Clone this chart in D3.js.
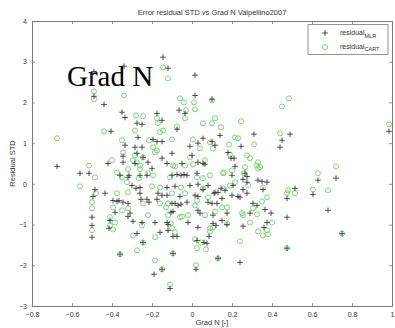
<!DOCTYPE html>
<html>
<head>
<meta charset="utf-8">
<script src="https://cdn.jsdelivr.net/npm/d3@7"></script>
<style>
  html, body { margin: 0; padding: 0; background: #fff; }
  svg { display: block; }
</style>
</head>
<body>
<svg id="chart" width="395" height="328"></svg>
<script>
// Residuals of the MLR model (x = Grad N, y = residual STD)
const mlrX = [-0.145,-0.12,-0.34,-0.49,0.015,-0.49,-0.44,0.015,-0.35,-0.335,-0.175,-0.065,-0.035,0.10,-0.15,-0.275,-0.25,-0.075,0.14,0.31,0.45,0.44,0.49,0.055,-0.01,0.03,0.10,0.115,0.245,-0.10,0,0.18,0.195,0.21,-0.405,-0.27,-0.195,-0.175,-0.15,-0.335,-0.285,-0.25,-0.275,-0.245,-0.22,-0.345,-0.345,-0.42,-0.15,-0.125,-0.05,-0.20,-0.225,-0.025,-0.36,-0.32,-0.30,-0.28,-0.675,-0.56,-0.515,-0.485,-0.495,-0.395,-0.375,-0.255,-0.225,-0.215,0.055,0.03,0.065,0.215,0.20,0.275,-0.10,-0.075,-0.055,-0.04,0.025,0.33,0.35,0.375,0.265,0.255,0.275,0.205,0.145,0.165,0.055,0.115,0.15,0.24,0.355,0.515,0.475,0.605,0.63,0.72,0.68,0.985,-0.125,-0.085,-0.01,0.03,0.08,0.255,-0.125,-0.06,0.015,0.03,0.11,0.13,0.20,0.23,0.275,-0.10,-0.085,-0.07,-0.055,-0.025,0.08,0.10,0.125,0.305,0.325,0.365,0.395,-0.105,-0.095,0.03,0.04,0.105,0.175,-0.125,-0.12,-0.02,0.03,0.105,0.15,0.255,0.36,0.375,-0.12,-0.095,-0.075,0.06,0.075,0.085,-0.095,0.13,0.24,0.02,-0.11,0.29,0.12,0.175,0.475,0.75,0.475,-0.285,-0.315,-0.26,-0.435,-0.26,-0.26,-0.17,-0.15,-0.365,-0.345,-0.32,-0.31,-0.175,-0.50,-0.50,-0.50,-0.41,-0.415,-0.295,-0.25,-0.185,-0.275,-0.16,-0.245,-0.36,-0.15,-0.19,-0.385,-0.32,0.025];
const mlrY = [3.11,2.84,2.89,2.76,2.67,2.15,1.95,2.17,1.76,1.63,1.73,1.81,1.73,2.08,1.56,1.49,1.46,1.34,1.19,1.22,1.07,0.90,1.22,1.12,0.92,1.00,1.04,0.95,0.92,0.75,0.70,0.77,0.63,0.63,1.29,1.14,1.09,1.04,1.04,0.95,0.90,0.90,0.75,0.65,0.53,0.68,0.53,0.50,0.63,0.50,0.50,0.38,0.21,0.21,0.21,0.16,-0.04,-0.11,0.43,0.26,0.26,-0.14,-0.31,-0.41,-0.43,-0.38,-0.38,-0.45,0.50,0.53,0.48,0.43,0.21,0.18,0.21,0.23,0.21,0.23,0.26,0.09,0.06,0.04,0.26,0.11,0.04,-0.04,-0.11,-0.16,-0.14,-0.21,-0.36,-0.33,-0.14,-0.11,-0.36,-0.26,0.09,0.14,-0.65,1.29,-0.09,-0.06,-0.04,-0.01,-0.04,-0.14,-0.28,-0.31,-0.28,-0.31,-0.23,-0.21,-0.28,-0.31,-0.23,-0.48,-0.48,-0.53,-0.50,-0.45,-0.45,-0.48,-0.48,-0.48,-0.53,-0.63,-0.72,-0.70,-0.68,-0.65,-0.72,-0.77,-0.72,-0.95,-1.00,-0.95,-1.07,-0.97,-0.90,-1.04,-1.07,-0.95,-1.14,-1.29,-1.29,-1.44,-1.46,-1.29,-1.71,-1.83,-1.93,-2.10,-2.57,-0.72,-1.02,-1.00,-0.82,-1.22,-1.58,0.50,0.21,0.21,-0.23,-0.09,-0.23,-0.23,-0.28,-0.41,-0.45,-0.48,-0.72,-0.38,-0.82,-1.02,-1.31,-0.90,-1.09,-0.92,-0.95,-0.95,-1.22,-1.19,-1.44,-1.73,-2.10,-2.22,-0.70,-0.80,-1.39];

// Residuals of the CART model
const cartX = [-0.145,-0.12,-0.49,-0.49,-0.34,-0.06,-0.04,0.01,0.10,0.45,0.485,0.115,0.245,-0.28,-0.245,-0.175,-0.03,-0.035,0.015,0.055,0.10,0.145,-0.075,0.44,-0.10,0.005,0.09,0.04,0.105,0.215,0.23,0.185,0.31,-0.01,0.19,0.275,0.29,0.33,0.065,0.33,-0.44,-0.16,-0.35,-0.175,-0.285,-0.40,-0.345,-0.285,-0.295,-0.275,-0.26,-0.26,-0.245,-0.215,-0.195,-0.185,-0.145,-0.17,-0.195,-0.095,-0.375,-0.325,-0.675,-0.515,-0.56,-0.48,-0.085,-0.035,0.005,0.265,0.325,0.34,0.26,-0.11,0.025,0.09,0.155,0.355,-0.055,0.055,0.19,0.28,-0.10,-0.035,0.025,0.375,0.35,-0.12,0.015,0.08,0.15,0.175,0.305,0.25,-0.12,-0.06,-0.02,0.065,0.115,0.175,-0.105,0.09,0.29,0.375,0.355,0.40,-0.085,0.015,0.045,0.025,0.07,0.24,-0.095,0.13,0.02,-0.11,0.16,0.20,0.215,0.055,0.16,0.48,0.515,0.605,0.68,0.63,0.72,0.985,0.475,0.75,0.475,0.33,0.38,0.325,0.255,0.105,0.09,-0.32,-0.485,-0.35,-0.265,-0.22,-0.375,-0.32,-0.20,-0.16,-0.50,-0.395,-0.35,-0.32,-0.245,-0.16,-0.13,-0.50,-0.50,-0.41,-0.395,-0.385,-0.25,-0.295,-0.185,-0.245,-0.275,-0.36,-0.185,-0.15,-0.41,-0.22,-0.10,-0.05];
const cartY = [2.86,2.59,2.27,2.08,2.17,2.10,2.00,2.00,2.05,1.90,2.10,1.61,1.54,1.68,1.66,1.61,1.81,1.61,1.83,1.49,1.49,1.39,1.41,1.24,1.09,1.09,1.02,0.87,0.87,1.14,1.12,0.97,0.97,0.65,0.72,0.70,0.63,0.53,0.58,0.38,1.29,1.27,1.07,0.82,0.70,0.58,0.77,1.31,0.58,0.53,0.45,0.36,0.65,1.07,0.90,0.77,1.31,1.49,0.21,0.45,0.28,0.04,1.12,0.45,-0.06,-0.23,0.43,0.45,0.48,0.41,0.45,0.41,0.26,0.16,0.16,0.21,0.26,-0.09,-0.09,-0.11,-0.04,-0.04,-0.23,-0.23,-0.41,-0.33,-0.43,-0.48,-0.53,-0.33,-0.58,-0.58,-0.60,-0.72,-0.77,-0.82,-0.77,-0.77,-0.68,-0.97,-0.97,-1.09,-0.95,-1.14,-1.27,-0.95,-1.19,-1.36,-1.44,-1.58,-1.61,-1.41,-1.71,-1.83,-2.00,-2.47,0.28,0.33,0.04,0.14,-0.11,-0.16,-0.23,-0.14,-0.16,0.26,0.43,1.46,-0.23,-1.22,-1.58,-1.17,-1.24,-0.75,-0.77,-1.07,-1.17,0.36,0.16,0.16,0.14,0.26,-0.23,-0.21,-0.06,-0.09,-0.45,-0.58,-0.65,-0.60,-0.48,-0.48,-0.58,-0.60,-1.14,-0.82,-1.12,-0.95,-1.02,-1.27,-1.31,-1.44,-1.63,-1.73,-1.88,-2.10,-1.02,-0.77,-1.09,-0.80];

const xTicks = [-0.8,-0.6,-0.4,-0.2,0,0.2,0.4,0.6,0.8,1];
const yTicks = [-3,-2,-1,0,1,2,3,4];

const titleText = "Error residual STD vs Grad N Valpellino2007";
const xLabel = "Grad N [-]";
const yLabel = "Residual STD";
const overlayText = "Grad N";

const sans = "'Liberation Sans', Arial, sans-serif";
const serif = "'Liberation Serif', 'Times New Roman', serif";

const svg = d3.select("#chart");
const plot = { left: 32, right: 392, top: 21, bottom: 306 };

const x = d3.scaleLinear().domain([-0.8, 1]).range([plot.left, plot.right]);
const y = d3.scaleLinear().domain([-3, 4]).range([plot.bottom, plot.top]);

const frameColor = "#7a7a7a";
const labelColor = "#333";
const tickLen = 3;

// Box-style frame with inward ticks on all four sides
const axisG = svg.append("g");
const axes = [
  { g: d3.axisBottom(x), t: `translate(0,${plot.bottom})`, labels: true },
  { g: d3.axisTop(x), t: `translate(0,${plot.top})`, labels: false },
  { g: d3.axisLeft(y), t: `translate(${plot.left},0)`, labels: true },
  { g: d3.axisRight(y), t: `translate(${plot.right},0)`, labels: false }
];
axes.forEach((a, i) => {
  const isX = i < 2;
  a.g.tickValues(isX ? xTicks : yTicks)
     .tickSizeInner(-tickLen).tickSizeOuter(0)
     .tickPadding(isX ? 6 : 5)
     .tickFormat(a.labels ? d3.format("") : () => "");
  const g = axisG.append("g").attr("transform", a.t).call(a.g);
  g.select(".domain").attr("stroke", frameColor).attr("stroke-width", 1);
  g.selectAll(".tick line").attr("stroke", frameColor).attr("stroke-width", 0.8);
  g.selectAll(".tick text").attr("fill", labelColor)
    .style("font-size", "7px").style("font-family", sans);
});

const pts = svg.append("g");

// CART residuals: open green circles
pts.selectAll("circle.cart")
  .data(d3.range(cartX.length))
  .join("circle")
  .attr("class", "cart")
  .attr("cx", i => x(cartX[i]))
  .attr("cy", i => y(cartY[i]))
  .attr("r", 2.5)
  .attr("fill", "none")
  .attr("stroke", "#66d466")
  .attr("stroke-width", 0.9);

// MLR residuals: dark plus markers
const arm = 2.8;
const plusPath = (cx, cy) => `M${cx - arm},${cy}H${cx + arm}M${cx},${cy - arm}V${cy + arm}`;
pts.selectAll("path.mlr")
  .data(d3.range(mlrX.length))
  .join("path")
  .attr("class", "mlr")
  .attr("d", i => plusPath(x(mlrX[i]), y(mlrY[i])))
  .attr("stroke", "#3a3a3a")
  .attr("stroke-width", 0.9)
  .attr("fill", "none");

// Title and axis labels
const label = (sel) => sel.attr("fill", labelColor)
  .style("font-family", sans).style("font-size", "7.5px");

svg.append("text")
  .attr("x", 212).attr("y", 15)
  .attr("text-anchor", "middle")
  .call(label)
  .text(titleText);

svg.append("text")
  .attr("x", 212).attr("y", 325)
  .attr("text-anchor", "middle")
  .call(label)
  .text(xLabel);

svg.append("text")
  .attr("transform", `translate(15,${(plot.top + plot.bottom) / 2}) rotate(-90)`)
  .attr("text-anchor", "middle")
  .call(label)
  .text(yLabel);

// Legend
const leg = svg.append("g");
leg.append("rect")
  .attr("x", 308).attr("y", 24.5).attr("width", 80).attr("height", 30)
  .attr("fill", "#fff").attr("stroke", frameColor).attr("stroke-width", 0.8);

const lx = 325;
leg.append("path")
  .attr("d", plusPath(lx, 33))
  .attr("stroke", "#3a3a3a").attr("stroke-width", 0.9);
leg.append("circle")
  .attr("cx", lx).attr("cy", 47).attr("r", 2.5)
  .attr("fill", "none").attr("stroke", "#66d466").attr("stroke-width", 0.9);

const legendItems = [
  { sub: "MLR", yy: 35 },
  { sub: "CART", yy: 48.5 }
];
legendItems.forEach(d => {
  const t = leg.append("text")
    .attr("x", 340).attr("y", d.yy)
    .attr("fill", labelColor)
    .style("font-family", sans).style("font-size", "7px");
  t.append("tspan").text("residual");
  t.append("tspan").attr("dy", 2.5).style("font-size", "5.5px").text(d.sub);
});

// Annotation drawn over the plot
svg.append("text")
  .attr("x", 67).attr("y", 86)
  .attr("fill", "#000")
  .style("font-family", serif).style("font-size", "29px")
  .text(overlayText);
</script>
</body>
</html>
